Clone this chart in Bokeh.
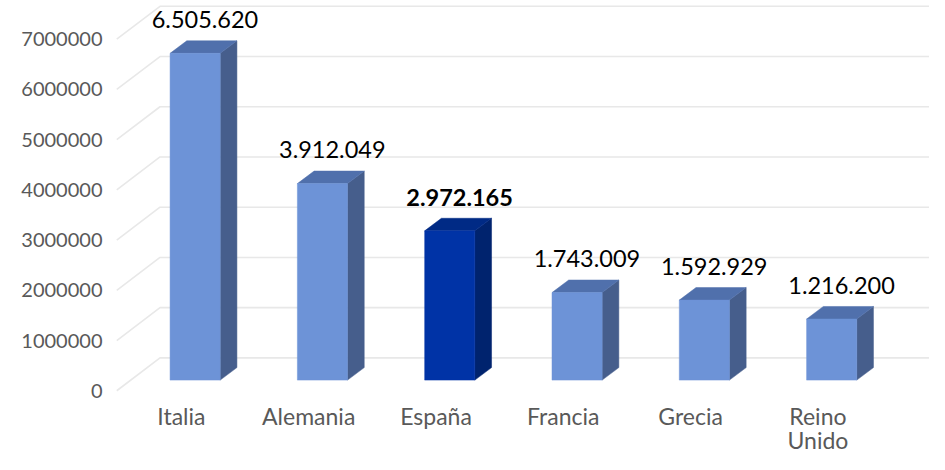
from bokeh.plotting import figure
from bokeh.models import Range1d, FixedTicker, NumeralTickFormatter, ColumnDataSource
from bokeh.core.properties import value
from bokeh.embed import file_html
from bokeh.resources import INLINE

# ---- data ----
categories = ["Italia", "Alemania", "España", "Francia", "Grecia", "Reino\nUnido"]
values = [6505620, 3912049, 2972165, 1743009, 1592929, 1216200]
value_labels = ["6.505.620", "3.912.049", "2.972.165", "1.743.009", "1.592.929", "1.216.200"]
highlight = [False, False, True, False, False, False]
y_ticks = [0, 1000000, 2000000, 3000000, 4000000, 5000000, 6000000, 7000000]

# ---- geometry: offsets given in reference pixels, converted to data units ----
W, H = 929, 454
SX, SY = W / 945.0, H / 470.0
PX_X = 129.5          # reference pixels per category
PX_Y = 52.0 / 1e6     # reference pixels per unit value
def dx(px):
    return px / PX_X
def dy(px):
    return px / PX_Y

LEFT = 106                       # figure px where the frame starts
x_start = (LEFT / SX - 184) / PX_X
x_end = (945 - 184) / PX_X
y_top = 404 / PX_Y
y_bot = -(470 - 404) / PX_Y

p = figure(width=W, height=H, output_backend="svg", toolbar_location=None,
           x_range=Range1d(x_start, x_end), y_range=Range1d(y_bot, y_top),
           x_axis_location=None, min_border_left=LEFT, min_border_right=0,
           min_border_top=0, min_border_bottom=0)
p.outline_line_color = None
p.grid.visible = False
p.background_fill_color = "white"
p.border_fill_color = "white"

# y axis
ax = p.yaxis[0]
ax.ticker = FixedTicker(ticks=y_ticks)
ax.formatter = NumeralTickFormatter(format="0")
ax.axis_line_color = None
ax.major_tick_line_color = None
ax.minor_tick_line_color = None
ax.major_tick_out = 0
ax.major_tick_in = 0
ax.major_label_standoff = 4
ax.major_label_text_font = "Lato"
ax.major_label_text_font_size = "20px"
ax.major_label_text_color = "#595959"

# gridlines in perspective (floor slant + back wall)
WALL_X = -0.5 - dx(1)
DEPTH_X, DEPTH_Y = 44, 34
gx, gy = [], []
for t in y_ticks:
    gx.append([WALL_X, WALL_X + dx(DEPTH_X), x_end + 1])
    gy.append([t, t + dy(DEPTH_Y), t + dy(DEPTH_Y)])
p.multi_line(gx, gy, line_color="#E8E8E8", line_width=1.6)

# bars
FRONT_OFF_X, FRONT_OFF_Y = 14, 11
HALF_W = 25.5
BDX, BDY = 17, 13
front_col, side_col, top_col = [], [], []
for h in highlight:
    if h:
        front_col.append("#0033A6"); side_col.append("#00236E"); top_col.append("#002A85")
    else:
        front_col.append("#6D93D7"); side_col.append("#465E8C"); top_col.append("#5070AC")

xl = [i + dx(FRONT_OFF_X - HALF_W) for i in range(len(values))]
xr = [i + dx(FRONT_OFF_X + HALF_W) for i in range(len(values))]
yb = [dy(FRONT_OFF_Y) for _ in values]
yt = [v + dy(FRONT_OFF_Y) for v in values]

side_xs = [[r, r + dx(BDX), r + dx(BDX), r] for r in xr]
side_ys = [[b, b + dy(BDY), t + dy(BDY), t] for b, t in zip(yb, yt)]
top_xs = [[l, r, r + dx(BDX), l + dx(BDX)] for l, r in zip(xl, xr)]
top_ys = [[t, t, t + dy(BDY), t + dy(BDY)] for t in yt]

p.patches(side_xs, side_ys, fill_color=side_col, line_color=side_col, line_width=0.5)
p.patches(top_xs, top_ys, fill_color=top_col, line_color=top_col, line_width=0.5)
p.quad(left=xl, right=xr, bottom=yb, top=yt, fill_color=front_col,
       line_color=front_col, line_width=0.5)

# value labels
src = ColumnDataSource(dict(
    x=[i + dx(24) for i in range(len(values))],
    y=[v + dy(46) for v in values],
    text=value_labels,
    style=["bold" if h else "normal" for h in highlight],
))
p.text(x="x", y="y", text="text", source=src, text_align="center",
       text_baseline="middle", text_font=value("Lato"), text_font_size="23.5px",
       text_color="#000000", text_font_style="style")

# category labels
p.text(x=list(range(len(categories))), y=[dy(-12)] * len(categories), text=categories,
       text_align="center", text_baseline="top", text_font=value("Lato"),
       text_font_size="23px", text_color="#595959", text_line_height=0.85)

open("out.html", "w").write(file_html(p, INLINE))
